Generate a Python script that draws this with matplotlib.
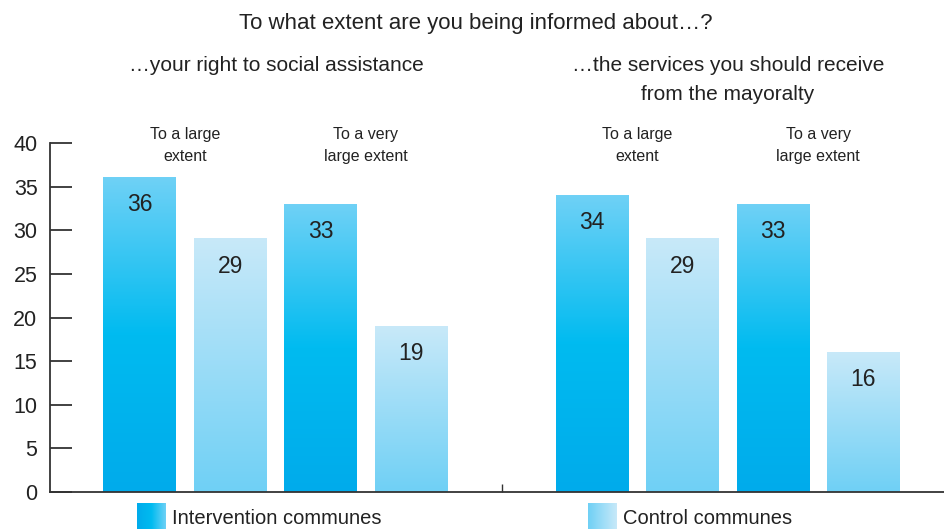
import numpy as np
import matplotlib
matplotlib.use("Agg")
import matplotlib.pyplot as plt
from matplotlib.colors import LinearSegmentedColormap

plt.rcParams['font.family'] = ['Liberation Sans', 'DejaVu Sans']

# survey shares (%), one list per commune type
groups = ['…your right to social assistance',
          '…the services you should receive\nfrom the mayoralty']
levels = ['To a large\nextent', 'To a very\nlarge extent']
intervention = [36, 33, 34, 33]
control = [29, 19, 29, 16]
series_names = ['Intervention communes', 'Control communes']

dark = '#333333'
txt = '#222222'
int_cmap = LinearSegmentedColormap.from_list(
    'int', ['#00abeb', '#00bbf0', '#6fd1f6'])
ctl_cmap = LinearSegmentedColormap.from_list(
    'ctl', ['#6fd0f5', '#c8e9f9'])

fig = plt.figure(figsize=(9.44, 5.29), dpi=100)
ax = fig.add_axes([50 / 944, 37 / 529, 894 / 944, 349 / 529])

# x slots: 0..3 for first question, 5..8 for second
pos_int = [0, 2, 5, 7]
pos_ctl = [1, 3, 6, 8]
width = 0.8

grad = np.linspace(0, 1, 256).reshape(-1, 1)
for pos, vals, cmap in [(pos_int, intervention, int_cmap),
                        (pos_ctl, control, ctl_cmap)]:
    bars = ax.bar(pos, vals, width=width, color='none', edgecolor='none')
    for b, v in zip(bars, vals):
        x0 = b.get_x()
        ax.imshow(grad, cmap=cmap, origin='lower', aspect='auto',
                  extent=[x0, x0 + b.get_width(), 0, b.get_height()],
                  zorder=2)
        ax.annotate(str(v), (x0 + b.get_width() / 2, v),
                    xytext=(0, -19.5), textcoords='offset points',
                    ha='center', va='center', fontsize=16.5, color=txt,
                    zorder=3)

ax.set_xlim(-0.99, 8.89)
ax.set_ylim(0, 40)
ax.set_yticks(range(0, 41, 5))
ax.tick_params(axis='y', direction='in', length=16, width=1.3,
               color=dark, labelsize=15.5, labelcolor=txt, pad=9)
ax.set_xticks([4])
ax.set_xticklabels([])
ax.tick_params(axis='x', direction='in', length=6, width=1.0, color=dark)
for s in ['top', 'right']:
    ax.spines[s].set_visible(False)
for s in ['left', 'bottom']:
    ax.spines[s].set_color(dark)
    ax.spines[s].set_linewidth(1.3)
ax.spines['bottom'].set_zorder(4)

# category labels above each pair of bars
for i, lab in enumerate(levels * 2):
    cx = (pos_int[i] + pos_ctl[i]) / 2
    ax.text(cx, 37.6, lab, ha='center', va='bottom', fontsize=11.5,
            color=txt, linespacing=1.55)

# titles
fig.text(476 / 944, 1 - 24 / 529, 'To what extent are you being informed about…?',
         ha='center', va='center', fontsize=16, color=txt)
fig.text(276 / 944, 1 - 56 / 529, groups[0], ha='center', va='top',
         fontsize=15, color=txt)
fig.text(728 / 944, 1 - 56 / 529, groups[1], ha='center', va='top',
         fontsize=15, color=txt, linespacing=1.65)

# legend with gradient swatches
hgrad = np.linspace(0, 1, 256).reshape(1, -1)
leg_cmaps = [LinearSegmentedColormap.from_list('a', ['#00abeb', '#00bbf0', '#6fd1f6']),
             LinearSegmentedColormap.from_list('b', ['#6fd0f5', '#c8e9f9'])]
for x_sw, name, cm in zip([137, 588], series_names, leg_cmaps):
    sw = fig.add_axes([x_sw / 944, 0, 29 / 944, 26 / 529])
    sw.imshow(hgrad, cmap=cm, aspect='auto')
    sw.axis('off')
    fig.text((x_sw + 35) / 944, 11 / 529, name, ha='left', va='center',
             fontsize=14.5, color=txt)

fig.savefig('out.png', dpi=100)
